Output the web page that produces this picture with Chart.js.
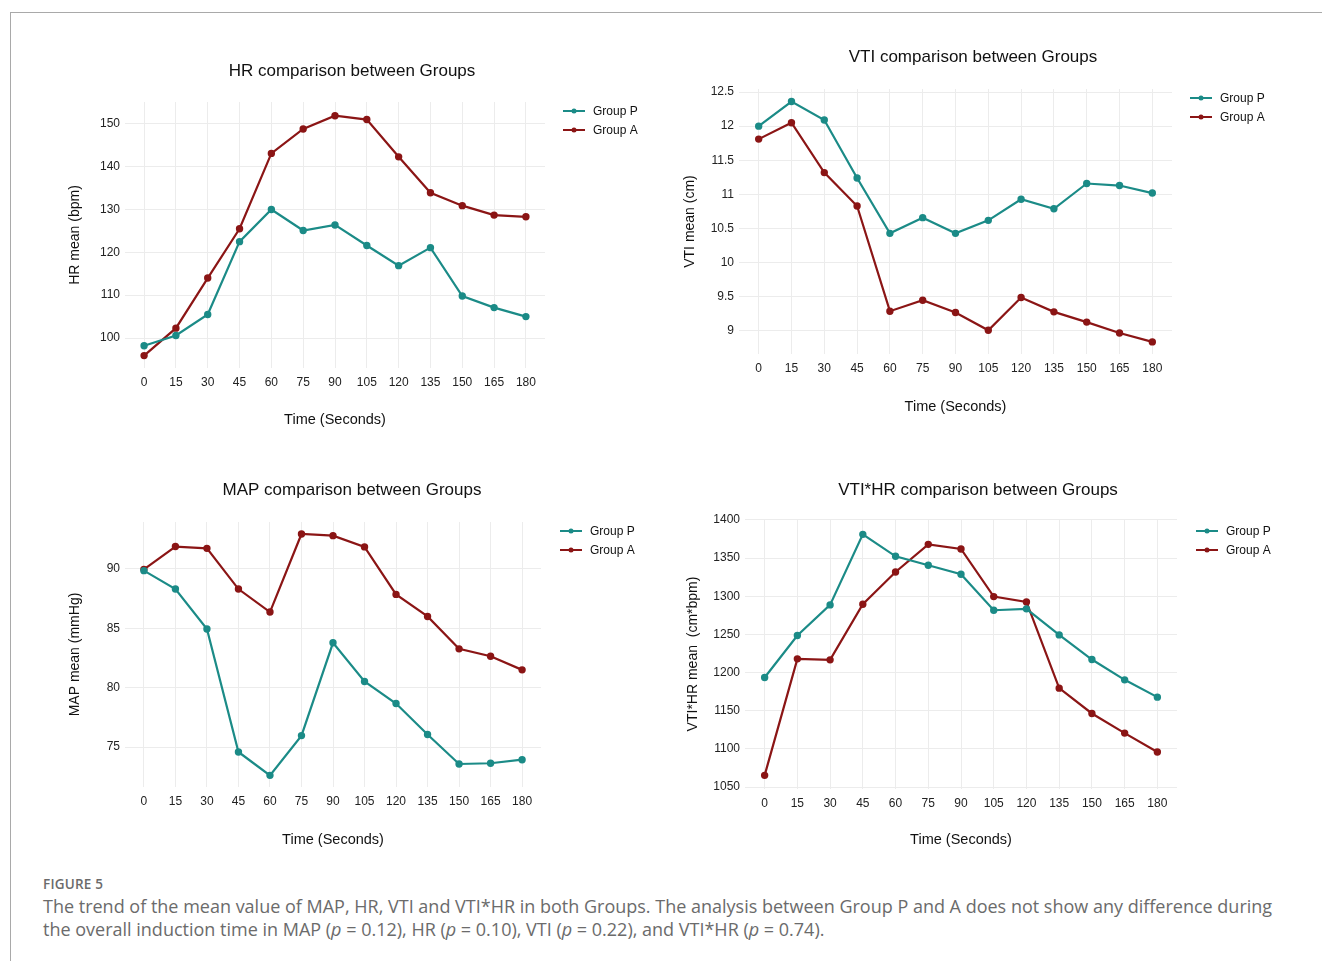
<!DOCTYPE html>
<html>
<head>
<meta charset="utf-8">
<script src="https://cdn.jsdelivr.net/npm/chart.js@4.4.1/dist/chart.umd.min.js"></script>
<style>
  body { margin: 0; background: #fff; width: 1322px; height: 961px; overflow: hidden; position: relative; }
  .frame { position: absolute; left: 10px; top: 12px; right: -2px; bottom: -2px; border-left: 1px solid #a9a9a9; border-top: 1px solid #a9a9a9; }
  canvas { position: absolute; }
  .caption { position: absolute; left: 43px; top: 873px; font-family: "Open Sans", sans-serif; color: #6b6b6b; white-space: nowrap; }
  .caption .label { font-size: 13.5px; font-weight: 600; letter-spacing: 0.2px; line-height: 22px; }
  .caption .text { font-size: 18px; line-height: 23px; }
</style>
</head>
<body>
<div class="frame"></div>
<canvas id="hrChart"></canvas>
<canvas id="vtiChart"></canvas>
<canvas id="mapChart"></canvas>
<canvas id="vtihrChart"></canvas>
<div class="caption">
  <div class="label">FIGURE 5</div>
  <div class="text">The trend of the mean value of MAP, HR, VTI and VTI*HR in both Groups. The analysis between Group P and A does not show any difference during<br>the overall induction time in MAP (<i>p</i> = 0.12), HR (<i>p</i> = 0.10), VTI (<i>p</i> = 0.22), and VTI*HR (<i>p</i> = 0.74).</div>
</div>
<script>
// time points (seconds after induction)
const timePoints = [0, 15, 30, 45, 60, 75, 90, 105, 120, 135, 150, 165, 180];

// heart rate, bpm
const hrGroupP = [98.2, 100.6, 105.5, 122.5, 130.0, 125.1, 126.4, 121.6, 116.9, 121.1, 109.8, 107.1, 105.0];
const hrGroupA = [95.9, 102.3, 114.0, 125.5, 143.1, 148.8, 151.9, 151.0, 142.3, 133.9, 130.9, 128.7, 128.3];

// velocity time integral, cm
const vtiGroupP = [12.0, 12.36, 12.09, 11.24, 10.43, 10.66, 10.43, 10.62, 10.93, 10.79, 11.16, 11.13, 11.02];
const vtiGroupA = [11.81, 12.05, 11.32, 10.83, 9.29, 9.45, 9.27, 9.01, 9.49, 9.28, 9.13, 8.97, 8.84];

// mean arterial pressure, mmHg
const mapGroupP = [89.86, 88.31, 84.94, 74.58, 72.61, 75.96, 83.78, 80.52, 78.66, 76.05, 73.57, 73.63, 73.93];
const mapGroupA = [89.97, 91.89, 91.74, 88.31, 86.37, 92.95, 92.81, 91.86, 87.86, 86.0, 83.27, 82.65, 81.5];

// VTI * HR, cm*bpm
const vtihrGroupP = [1193.6, 1248.6, 1288.7, 1381.2, 1352.4, 1340.6, 1328.9, 1281.7, 1283.5, 1249.4, 1217.1, 1190.5, 1167.8];
const vtihrGroupA = [1065.3, 1218.0, 1216.7, 1289.6, 1331.9, 1368.1, 1362.0, 1299.6, 1292.6, 1179.6, 1146.4, 1120.7, 1095.8];

// axis ticks
const hrTicks = [100, 110, 120, 130, 140, 150];
const vtiTicks = [9, 9.5, 10, 10.5, 11, 11.5, 12, 12.5];
const mapTicks = [75, 80, 85, 90];
const vtihrTicks = [1050, 1100, 1150, 1200, 1250, 1300, 1350, 1400];

const groupNames = ['Group P', 'Group A'];
const groupColors = ['#1b8b87', '#8b1515'];

const FONT = '"Liberation Sans", Arial, Helvetica, sans-serif';

// panel layout, page coordinates
const panels = [
  { id: 'hrChart', rect: [60, 45, 600, 400], area: [125, 102, 545, 368], y: [93.0, 155.1], ticks: hrTicks,
    title: 'HR comparison between Groups', titleAt: [352, 71], legendAt: [563, 111],
    yTitle: 'HR mean (bpm)', yTitleX: 75, xTitleY: 420, series: [hrGroupP, hrGroupA] },
  { id: 'vtiChart', rect: [660, 32, 640, 400], area: [739, 89, 1172, 354], y: [8.663, 12.544], ticks: vtiTicks,
    title: 'VTI comparison between Groups', titleAt: [973, 57], legendAt: [1190, 98],
    yTitle: 'VTI mean (cm)', yTitleX: 690, xTitleY: 407, series: [vtiGroupP, vtiGroupA] },
  { id: 'mapChart', rect: [60, 465, 600, 400], area: [125, 522, 541, 787], y: [71.63, 93.96], ticks: mapTicks,
    title: 'MAP comparison between Groups', titleAt: [352, 490], legendAt: [560, 531],
    yTitle: 'MAP mean (mmHg)', yTitleX: 75, xTitleY: 840, series: [mapGroupP, mapGroupA] },
  { id: 'vtihrChart', rect: [660, 465, 640, 400], area: [745, 519, 1177, 789], y: [1047.4, 1401.3], ticks: vtihrTicks,
    title: 'VTI*HR comparison between Groups', titleAt: [978, 490], legendAt: [1196, 531],
    yTitle: 'VTI*HR mean  (cm*bpm)', yTitleX: 693, xTitleY: 840, series: [vtihrGroupP, vtihrGroupA] }
];

// title + ggplot-style legend (line with a dot) drawn on top
const panelDecor = {
  id: 'panelDecor',
  afterDraw(chart, args, opts) {
    const ctx = chart.ctx;
    ctx.save();
    ctx.fillStyle = '#111';
    ctx.font = '17px ' + FONT;
    ctx.textAlign = 'center';
    ctx.textBaseline = 'middle';
    ctx.fillText(opts.title, opts.titleX, opts.titleY);

    ctx.font = '12px ' + FONT;
    ctx.textAlign = 'left';
    chart.data.datasets.forEach((ds, i) => {
      const y = opts.legendY + i * 19;
      const x = opts.legendX;
      ctx.strokeStyle = ds.borderColor;
      ctx.lineWidth = 2;
      ctx.beginPath();
      ctx.moveTo(x, y);
      ctx.lineTo(x + 22, y);
      ctx.stroke();
      ctx.fillStyle = ds.borderColor;
      ctx.beginPath();
      ctx.arc(x + 11, y, 2.5, 0, Math.PI * 2);
      ctx.fill();
      ctx.fillStyle = '#111';
      ctx.fillText(ds.label, x + 30, y + 0.5);
    });
    ctx.restore();
  }
};

panels.forEach(p => {
  const [cl, ct, cw, ch] = p.rect;
  const [al, at, ar, ab] = p.area;
  const canvas = document.getElementById(p.id);
  canvas.width = cw;
  canvas.height = ch;
  canvas.style.left = cl + 'px';
  canvas.style.top = ct + 'px';
  canvas.style.width = cw + 'px';
  canvas.style.height = ch + 'px';

  const titleFont = 14.5;
  const lh = titleFont * 1.2;

  new Chart(canvas, {
    type: 'line',
    data: {
      datasets: p.series.map((vals, i) => ({
        label: groupNames[i],
        data: timePoints.map((t, k) => ({ x: t, y: vals[k] })),
        borderColor: groupColors[i],
        backgroundColor: groupColors[i],
        borderWidth: 2.2,
        pointRadius: 2.6,
        pointHoverRadius: 2.6,
        tension: 0
      }))
    },
    options: {
      responsive: false,
      animation: false,
      layout: { padding: { left: 0, top: at - ct, right: cl + cw - ar, bottom: 0 } },
      plugins: {
        legend: { display: false },
        title: { display: false },
        tooltip: { enabled: false },
        panelDecor: {
          title: p.title,
          titleX: p.titleAt[0] - cl,
          titleY: p.titleAt[1] - ct,
          legendX: p.legendAt[0] - cl,
          legendY: p.legendAt[1] - ct
        }
      },
      scales: {
        x: {
          type: 'linear',
          min: -9,
          max: 189,
          afterBuildTicks: s => { s.ticks = timePoints.map(v => ({ value: v })); },
          afterFit: s => { s.height = ct + ch - ab; },
          grid: { color: '#ececec', lineWidth: 1, drawTicks: false },
          border: { display: false },
          ticks: { padding: 7, color: '#222', font: { family: FONT, size: 12 }, maxRotation: 0, autoSkip: false },
          title: {
            display: true, text: 'Time (Seconds)', color: '#111',
            font: { family: FONT, size: titleFont },
            padding: { top: 0, bottom: (ct + ch) - p.xTitleY - lh / 2 }
          }
        },
        y: {
          min: p.y[0],
          max: p.y[1],
          afterBuildTicks: s => { s.ticks = p.ticks.map(v => ({ value: v })); },
          afterFit: s => { s.width = al - cl; },
          grid: { color: '#ececec', lineWidth: 1, drawTicks: false },
          border: { display: false },
          ticks: { padding: 5, color: '#222', font: { family: FONT, size: 12 }, callback: v => String(v) },
          title: {
            display: true, text: p.yTitle, color: '#111',
            font: { family: FONT, size: 14 },
            padding: { top: p.yTitleX - cl - 14 * 1.2 / 2, bottom: 0 }
          }
        }
      }
    },
    plugins: [panelDecor]
  });
});
</script>
</body>
</html>
